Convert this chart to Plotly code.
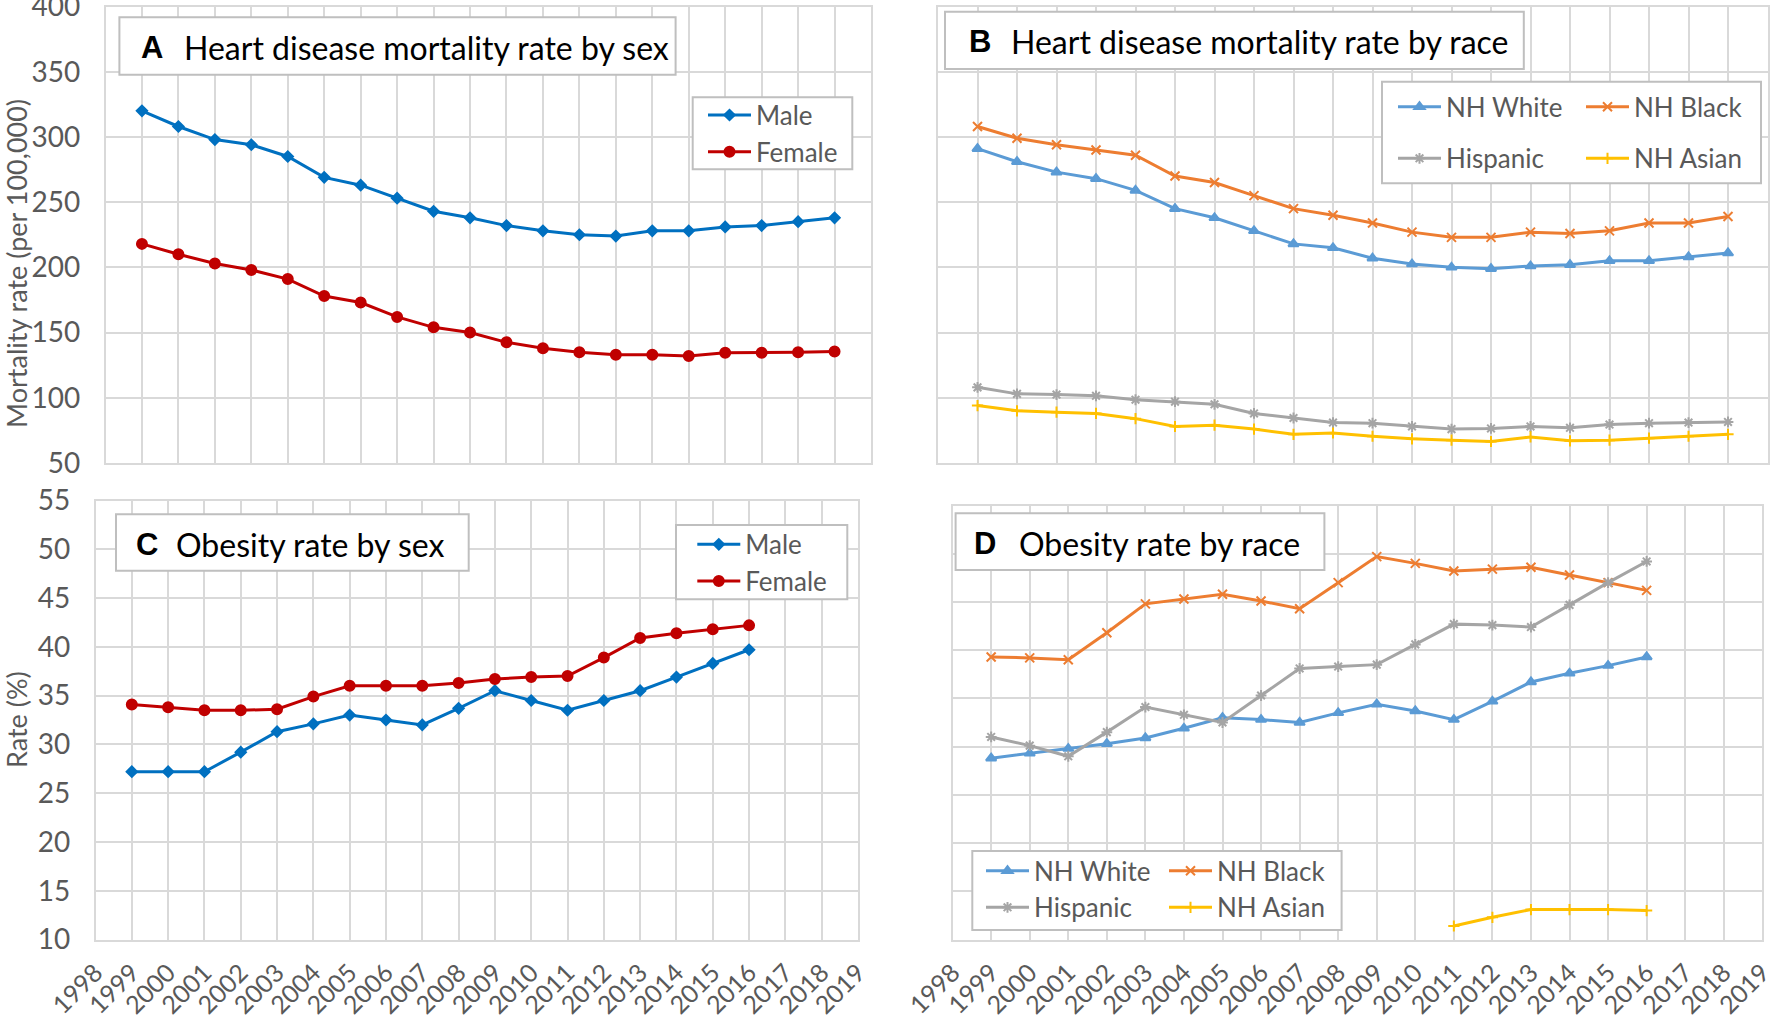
import plotly.graph_objects as go

# ---------------- data ----------------
years_hd = list(range(1999, 2019))
male_hd = [320, 308, 298, 294, 285, 269, 263, 253, 243, 238, 232, 228, 225, 224, 228, 228, 231, 232, 235, 238]
female_hd = [218, 210, 203, 198, 191, 178, 173, 162, 154, 150, 142.5, 138, 135, 133, 133, 132, 134.5, 134.5, 135, 135.5]

white_hd = [291, 281, 273, 268, 259, 245, 238, 228, 218, 215, 207, 202.5, 200, 199, 201, 202, 205, 205, 208, 211]
black_hd = [308, 299, 294, 290, 286, 270, 265, 255, 245, 240, 234, 227, 223, 223, 227, 226, 228, 234, 234, 239]
hisp_hd = [108, 103, 102.5, 101.5, 98.5, 97, 95, 88, 84.5, 81, 80.5, 78, 76, 76.5, 78, 77, 79.5, 80.5, 81, 81.5]
asian_hd = [94, 90, 89, 88, 84, 78, 79, 76, 72, 73, 70.5, 68.5, 67.5, 66.5, 70, 67, 67.5, 69, 70.5, 72]

years_ob = list(range(1999, 2017))
male_ob = [27.2, 27.2, 27.2, 29.2, 31.3, 32.1, 33.0, 32.5, 32.0, 33.7, 35.5, 34.5, 33.5, 34.5, 35.5, 36.9, 38.3, 39.7]
female_ob = [34.1, 33.8, 33.5, 33.5, 33.6, 34.9, 36.0, 36.0, 36.0, 36.3, 36.7, 36.9, 37.0, 38.9, 40.9, 41.4, 41.8, 42.2]

white_ob = [28.8, 29.3, 29.8, 30.3, 30.9, 31.9, 33.0, 32.8, 32.5, 33.5, 34.4, 33.7, 32.8, 34.7, 36.7, 37.6, 38.4, 39.3]
black_ob = [39.3, 39.2, 39.0, 41.8, 44.8, 45.3, 45.8, 45.1, 44.3, 47.0, 49.7, 49.0, 48.2, 48.4, 48.6, 47.8, 47.0, 46.2]
hisp_ob = [31.0, 30.1, 29.0, 31.5, 34.1, 33.3, 32.5, 35.3, 38.1, 38.3, 38.5, 40.6, 42.7, 42.6, 42.4, 44.7, 47.0, 49.2]
years_asian_ob = list(range(2011, 2017))
asian_ob = [11.4, 12.3, 13.1, 13.1, 13.1, 13.0]

x_tick_labels = [str(y) for y in range(1998, 2020)]

# ---------------- helpers ----------------
W, H = 1772, 1023
def px(x):
    return x / W
def py(y):
    return 1 - y / H

FONT = "Lato"
TXT = "#595959"
GRID = "#D9D9D9"
BOX = "#BFBFBF"

C_MALE = "#0070C0"
C_FEMALE = "#C00000"
C_WHITE = "#5B9BD5"
C_BLACK = "#ED7D31"
C_HISP = "#A5A5A5"
C_ASIAN = "#FFC000"

fig = go.Figure()

def add(x, y, name, color, symbol, size, xa, ya, legend, lw=3):
    fig.add_trace(go.Scatter(
        x=x, y=y, name=name, mode="lines+markers",
        line=dict(color=color, width=lw),
        marker=dict(symbol=symbol, size=size, color=color,
                    line=dict(color=color, width=2)),
        xaxis=xa, yaxis=ya, legend=legend, hoverinfo="skip"))

# A
add(years_hd, male_hd, "Male", C_MALE, "diamond", 8, "x", "y", "legend")
add(years_hd, female_hd, "Female", C_FEMALE, "circle", 10, "x", "y", "legend")
# B
add(years_hd, white_hd, "NH White", C_WHITE, "triangle-up", 9, "x2", "y2", "legend3")
add(years_hd, black_hd, "NH Black", C_BLACK, "x-thin-open", 9, "x2", "y2", "legend3")
add(years_hd, hisp_hd, "Hispanic", C_HISP, "asterisk-open", 9, "x2", "y2", "legend4")
add(years_hd, asian_hd, "NH Asian", C_ASIAN, "cross-thin-open", 8, "x2", "y2", "legend4")
# C
add(years_ob, male_ob, "Male", C_MALE, "diamond", 8, "x3", "y3", "legend2")
add(years_ob, female_ob, "Female", C_FEMALE, "circle", 10, "x3", "y3", "legend2")
# D
add(years_ob, white_ob, "NH White", C_WHITE, "triangle-up", 9, "x4", "y4", "legend5")
add(years_ob, black_ob, "NH Black", C_BLACK, "x-thin-open", 9, "x4", "y4", "legend5")
add(years_ob, hisp_ob, "Hispanic", C_HISP, "asterisk-open", 9, "x4", "y4", "legend6")
add(years_asian_ob, asian_ob, "NH Asian", C_ASIAN, "cross-thin-open", 8, "x4", "y4", "legend6")

def xax(domain, anchor, labels):
    return dict(domain=domain, anchor=anchor, range=[1998, 2019], automargin=False,
                tickmode="array", tickvals=list(range(1998, 2020)), ticktext=x_tick_labels,
                showticklabels=labels, tickangle=-45, ticklabeloverflow="allow",
                tickfont=dict(family=FONT, size=25, color=TXT),
                showgrid=True, gridcolor=GRID, gridwidth=1.5,
                showline=True, linecolor=GRID, linewidth=1.5, mirror=True,
                zeroline=False, ticks="", ticklabelstandoff=7, fixedrange=True)

def yax(domain, anchor, rng, dtick, labels):
    return dict(domain=domain, anchor=anchor, range=rng, dtick=dtick, tick0=rng[0],
                showticklabels=labels, automargin=False, ticklabeloverflow="allow",
                tickfont=dict(family=FONT, size=28, color=TXT),
                showgrid=True, gridcolor=GRID, gridwidth=1.5,
                showline=True, linecolor=GRID, linewidth=1.5, mirror=True,
                zeroline=False, ticks="", ticklabelstandoff=18, fixedrange=True)

top_dom = [py(463), py(6.5)]
bot_dom = [py(939.5), py(500.5)]
bot_dom_d = [py(939.5), py(505.5)]

fig.update_layout(
    xaxis=xax([px(105.5), px(871)], "y", False),
    yaxis=yax(top_dom, "x", [50, 400], 50, True),
    xaxis2=xax([px(938), px(1767.5)], "y2", False),
    yaxis2=yax(top_dom, "x2", [50, 400], 50, False),
    xaxis3=xax([px(95.5), px(858)], "y3", True),
    yaxis3=yax(bot_dom, "x3", [10, 55], 5, True),
    xaxis4=xax([px(952.6), px(1762.3)], "y4", True),
    yaxis4=yax(bot_dom_d, "x4", [10, 55], 5, False),
)

# ---------------- boxes (titles & legends) ----------------
boxes = [
    (119.4, 17.3, 675.6, 74.7),
    (945, 11.7, 1523.8, 69),
    (116, 514.3, 468.7, 570.7),
    (955.6, 513.3, 1324.4, 570),
    (692.7, 97.3, 852.3, 169.3),
    (676, 525, 847.3, 599.3),
    (1382, 81.7, 1761, 183.3),
    (972.3, 851, 1341.6, 930),
]
shapes = []
for x0, y0, x1, y1 in boxes:
    shapes.append(dict(type="rect", xref="paper", yref="paper",
                       x0=px(x0), x1=px(x1), y0=py(y1), y1=py(y0),
                       line=dict(color=BOX, width=2), fillcolor="white", layer="above"))
fig.update_layout(shapes=shapes)

# ---------------- annotations ----------------
titles = [
    ("A", 139, "Heart disease mortality rate by sex", 181.6, 48),
    ("B", 967, "Heart disease mortality rate by race", 1009, 41.7),
    ("C", 134, "Obesity rate by sex", 174, 544),
    ("D", 972, "Obesity rate by race", 1016.6, 543),
]
anns = []
for letter, lx, text, tx, cy in titles:
    anns.append(dict(text="<b>" + letter + "</b>", x=px(lx), y=py(cy), xref="paper", yref="paper",
                     xanchor="left", yanchor="middle", showarrow=False,
                     font=dict(family="Liberation Sans", size=31, color="black")))
    anns.append(dict(text=text, x=px(tx), y=py(cy), xref="paper", yref="paper",
                     xanchor="left", yanchor="middle", showarrow=False,
                     font=dict(family=FONT, size=32, color="black")))
anns.append(dict(text="Mortality rate (per 100,000)", x=px(16), y=py(264), xref="paper", yref="paper",
                 xanchor="center", yanchor="middle", textangle=-90, showarrow=False,
                 font=dict(family=FONT, size=27, color=TXT)))
anns.append(dict(text="Rate (%)", x=px(16), y=py(720), xref="paper", yref="paper",
                 xanchor="center", yanchor="middle", textangle=-90, showarrow=False,
                 font=dict(family=FONT, size=27, color=TXT)))
fig.update_layout(annotations=anns)

# ---------------- legends ----------------
def leg(x, ytop, orient="v", entry=None):
    d = dict(x=px(x), y=py(ytop), xanchor="left", yanchor="top", orientation=orient,
             bgcolor="rgba(0,0,0,0)", borderwidth=0, itemwidth=43,
             font=dict(family=FONT, size=26, color=TXT), tracegroupgap=0,
             itemclick=False, itemdoubleclick=False)
    if entry is not None:
        d["entrywidth"] = entry
        d["entrywidthmode"] = "pixels"
    return d

fig.update_layout(
    legend=leg(703, 91.6),
    legend2=leg(692.3, 520.9),
    legend3=leg(1393, 83.3, "h", 130),
    legend4=leg(1393, 134.9, "h", 130),
    legend5=leg(981, 847.3, "h", 125),
    legend6=leg(981, 883.9, "h", 125),
)

fig.update_layout(
    width=W, height=H, autosize=False,
    margin=dict(l=0, r=0, t=0, b=0, autoexpand=False),
    paper_bgcolor="white", plot_bgcolor="white",
    showlegend=True, hovermode=False,
    font=dict(family=FONT, color=TXT),
)

fig.write_html("out.html", config={"displayModeBar": False},
               post_script="document.body.style.margin='0';document.body.style.overflow='hidden';")
